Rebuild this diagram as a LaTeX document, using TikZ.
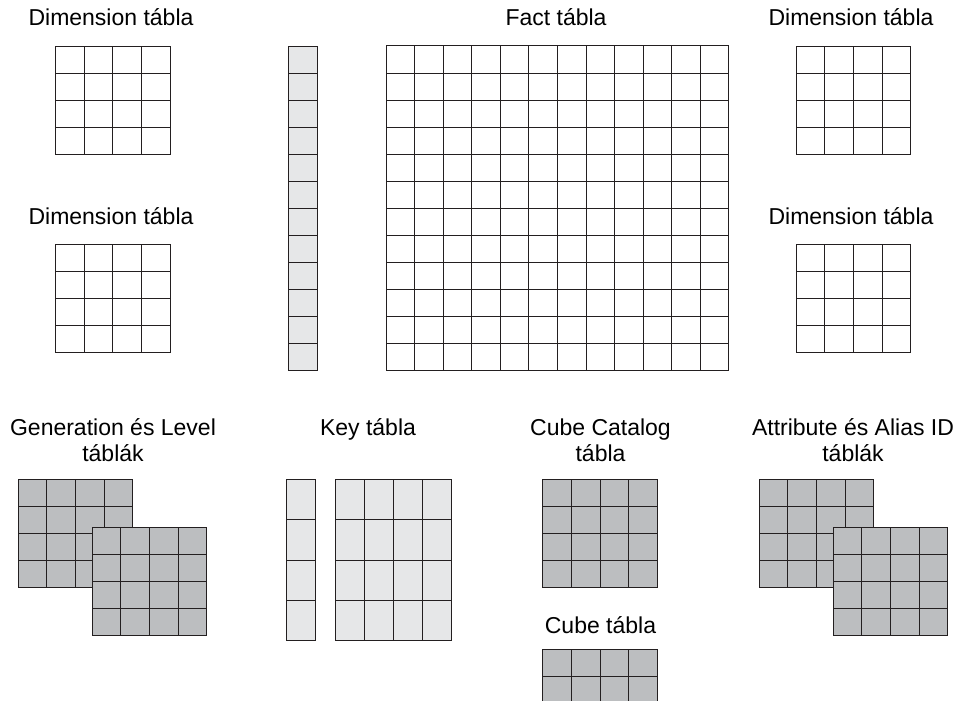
\documentclass[tikz,border=0pt]{standalone}
\usepackage{fontspec}
\setmainfont{Liberation Sans}
\usetikzlibrary{calc}

\definecolor{linegray}{HTML}{231F20}
\definecolor{cellgray}{HTML}{BCBEC0}
\definecolor{celllight}{HTML}{E6E7E8}

\tikzset{
    tabla/.style={draw=linegray, line width=1pt, inner sep=0pt, anchor=north west},
    cells/.style 2 args={path picture={
        \foreach \i in {1,...,#1}
            \draw[linegray, line width=1pt] ($(path picture bounding box.north west)!\i/#1!(path picture bounding box.north east)$) -- ($(path picture bounding box.south west)!\i/#1!(path picture bounding box.south east)$);
        \foreach \j in {1,...,#2}
            \draw[linegray, line width=1pt] ($(path picture bounding box.north west)!\j/#2!(path picture bounding box.south west)$) -- ($(path picture bounding box.north east)!\j/#2!(path picture bounding box.south east)$);
    }},
    sq/.style={tabla, cells={4}{4}, minimum width=114.5pt, minimum height=108pt},
    tabletitle/.style={font=\fontsize{23}{26.5}\selectfont, align=center, anchor=base, inner sep=0pt}
}

\begin{document}
\begin{tikzpicture}[x=1pt, y=-1pt]
    \useasboundingbox (0,0) rectangle (969,701);
    \clip (0,0) rectangle (969,701);

    % upper half: fact table with its dimensions
    \node (dimAtitle) [tabletitle] at (111,26) {Dimension tábla};
    \node (dimA) [sq] at (55,45.7) {};
    \node (dimBtitle) [tabletitle] at (111,224) {Dimension tábla};
    \node (dimB) [sq] at (55,244) {};

    \node (factkey) [tabla, cells={1}{12}, fill=celllight, minimum width=28.7pt, minimum height=324.3pt] at (288,45.7) {};
    \node (facttitle) [tabletitle] at (556,26) {Fact tábla};
    \node (fact) [tabla, cells={12}{12}, minimum width=342.6pt, minimum height=324.5pt] at (385.7,45.5) {};

    \node (dimCtitle) [tabletitle] at (851,26) {Dimension tábla};
    \node (dimC) [sq] at (795.7,45.7) {};
    \node (dimDtitle) [tabletitle] at (851,224) {Dimension tábla};
    \node (dimD) [sq] at (795.7,244) {};

    % lower half
    \node (gentitle) [tabletitle] at (113,461.5) {Generation és Level\\táblák};
    \node (genback) [sq, fill=cellgray] at (17.7,479.3) {};
    \node (genfront) [sq, fill=cellgray] at (91.7,526.7) {};

    \node (keytitle) [tabletitle] at (368,435) {Key tábla};
    \node (keycol) [tabla, cells={1}{4}, fill=celllight, minimum width=29.3pt, minimum height=160.7pt] at (285.7,479.3) {};
    \node (key) [tabla, cells={4}{4}, fill=celllight, minimum width=115.4pt, minimum height=160.7pt] at (335.3,479.3) {};

    \node (catalogtitle) [tabletitle] at (600.5,461.5) {Cube Catalog\\tábla};
    \node (catalog) [sq, fill=cellgray] at (542.3,479.3) {};
    \node (cubetitle) [tabletitle] at (600.5,633) {Cube tábla};
    \node (cube) [sq, fill=cellgray] at (542.3,649) {};

    \node (attrtitle) [tabletitle] at (853,461.5) {Attribute és Alias ID\\táblák};
    \node (attrback) [sq, fill=cellgray] at (758.7,479.3) {};
    \node (attrfront) [sq, fill=cellgray] at (832.7,526.7) {};
\end{tikzpicture}
\end{document}
